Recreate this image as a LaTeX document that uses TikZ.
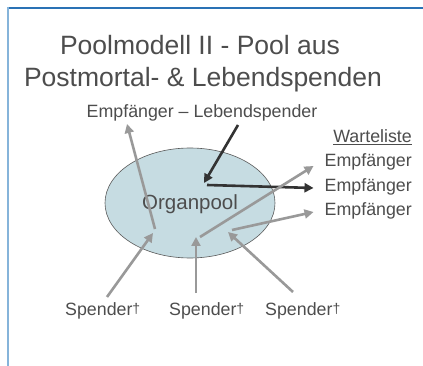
\documentclass[tikz,border=0pt]{standalone}
\usepackage{fontspec}
\setmainfont{Liberation Sans}
\usetikzlibrary{arrows.meta,shapes.geometric}
\definecolor{txt}{HTML}{4D4D4D}
\definecolor{topblue}{HTML}{2A72B5}
\definecolor{leftblue}{HTML}{86B4DA}
\definecolor{poolfill}{HTML}{C6DCE2}
\definecolor{poolline}{HTML}{5A5A5A}
\definecolor{darkarrow}{HTML}{333333}
\definecolor{greyarrow}{HTML}{999999}
\newcommand{\spdag}{\raisebox{2pt}{\fontsize{14}{14}\selectfont †}}
\begin{document}
\begin{tikzpicture}[x=1pt,y=-1pt,
  titlefont/.style={font=\fontsize{26.5}{30}\selectfont, text=txt, inner sep=0pt},
  lbl/.style={font=\fontsize{17.8}{20}\selectfont, text=txt, inner sep=0pt},
  darrow/.style={draw=darkarrow, line width=2.6pt, -{Triangle[length=9pt,width=9pt]}},
  garrow/.style={draw=greyarrow, line width=2.6pt, -{Triangle[length=9pt,width=9pt]}},
  pool/.style={ellipse, draw=poolline, line width=0.6pt, fill=poolfill, minimum width=170pt, minimum height=110pt, inner sep=0pt}]
\useasboundingbox (0,0) rectangle (423,366);
\fill[white] (0,0) rectangle (423,366);
\draw[topblue, line width=2pt] (7,8) -- (423,8);
\draw[leftblue, line width=2.6pt] (8,7) -- (8,366);

\node[titlefont, anchor=base] (t1) at (200,55) {Poolmodell II - Pool aus};
\node[titlefont, anchor=base] (t2) at (203,87) {Postmortal- \& Lebendspenden};

\node[pool] (pool) at (190,203) {};
\node[lbl, font=\fontsize{20.5}{22}\selectfont, anchor=base west] (org) at (142,210) {Organpool};

\node[lbl, anchor=base] (el) at (202,118) {Empfänger – Lebendspender};
\node[lbl, anchor=base east] (wl) at (412,143) {\underline{Warteliste}};
\node[lbl, anchor=base east] (e1) at (412,167) {Empfänger};
\node[lbl, anchor=base east] (e2) at (412,192) {Empfänger};
\node[lbl, anchor=base east] (e3) at (412,216) {Empfänger};

\node[lbl, anchor=base west] (s1) at (65,315) {Spender\spdag};
\node[lbl, anchor=base west] (s2) at (169,315) {Spender\spdag};
\node[lbl, anchor=base west] (s3) at (265,315) {Spender\spdag};

% coordinates
\coordinate (ls) at (238,125);
\coordinate (c) at (204,183);
\coordinate (c2) at (207,185);
\coordinate (a3s) at (200,237);
\coordinate (a4s) at (232,230);
\coordinate (a5s) at (155,229);
\coordinate (a5e) at (127,124);
\coordinate (s1s) at (107,297);
\coordinate (s1e) at (153,233);
\coordinate (s2s) at (196,293);
\coordinate (s2e) at (196,237);
\coordinate (s3s) at (293,292);
\coordinate (s3e) at (228,232);
\coordinate (t1e) at ([xshift=-11pt]e1.west |- 0,166);
\coordinate (t2e) at ([xshift=-11pt]e2.west |- 0,188);
\coordinate (t3e) at ([xshift=-11pt]e3.west |- 0,212);

\draw[darrow] (ls) -- (c);
\draw[darrow] (c2) -- (t2e);
\draw[garrow] (a3s) -- (t1e);
\draw[garrow] (a4s) -- (t3e);
\draw[garrow] (a5s) -- (a5e);
\draw[garrow] (s1s) -- (s1e);
\draw[garrow] (s2s) -- (s2e);
\draw[garrow] (s3s) -- (s3e);
\end{tikzpicture}
\end{document}
